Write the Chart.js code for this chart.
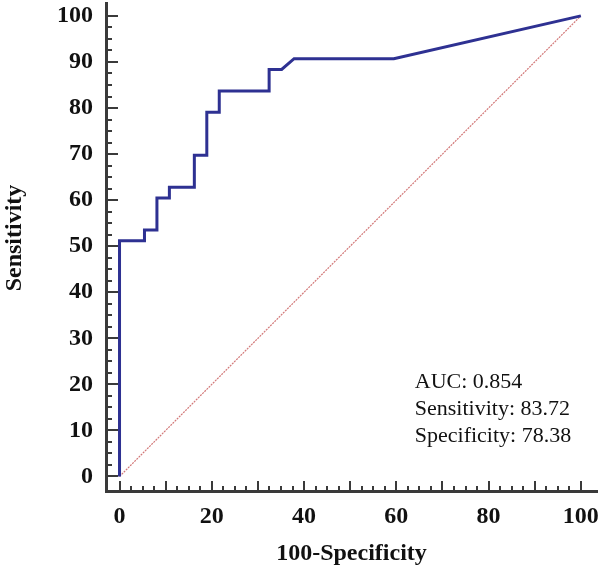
<!DOCTYPE html>
<html><head><meta charset="utf-8">
<script src="https://cdn.jsdelivr.net/npm/chart.js@4/dist/chart.umd.min.js"></script>
<style>html,body{margin:0;padding:0;background:#fff}#wrap{width:603px;height:572px;position:relative}</style>
</head><body><div id="wrap"><canvas id="c"></canvas></div>
<script>
// ROC curve (100-Specificity, Sensitivity)
const rocX = [0, 0, 5.41, 5.41, 8.11, 8.11, 10.81, 10.81, 16.22, 16.22, 18.92, 18.92, 21.62, 21.62, 32.43, 32.43, 35.14, 37.84, 59.46, 100];
const rocY = [0, 51.16, 51.16, 53.49, 53.49, 60.47, 60.47, 62.79, 62.79, 69.77, 69.77, 79.07, 79.07, 83.72, 83.72, 88.37, 88.37, 90.70, 90.70, 100];
// reference (chance) diagonal
const refX = [0, 100];
const refY = [0, 100];
// tick labels
const xTickValues = [0, 20, 40, 60, 80, 100];
const yTickValues = [0, 10, 20, 30, 40, 50, 60, 70, 80, 90, 100];
// statistics box
const statsLines = ["AUC: 0.854", "Sensitivity: 83.72", "Specificity: 78.38"];
const statsAnchor = { x: 64, y: 19.2 };

const AXIS = '#3a3a3a';
const SERIF = "'Liberation Serif','Times New Roman',serif";

const inwardTicks = {
  id: 'inwardTicks',
  afterDraw(chart) {
    const { ctx, chartArea, scales: { x, y } } = chart;
    ctx.save();
    ctx.strokeStyle = AXIS;
    ctx.lineWidth = 2;
    ctx.beginPath();
    for (let v = 0; v <= 100; v += 2.5) {
      const px = Math.round(x.getPixelForValue(v));
      const len = (v % 10 === 0) ? 10 : 5;
      ctx.moveTo(px, chartArea.bottom);
      ctx.lineTo(px, chartArea.bottom - len);
      const py = Math.round(y.getPixelForValue(v));
      const lenY = (v % 10 === 0) ? 12 : 6;
      ctx.moveTo(chartArea.left, py);
      ctx.lineTo(chartArea.left + lenY, py);
    }
    ctx.stroke();
    // statistics text
    ctx.fillStyle = '#111';
    ctx.font = "22px " + SERIF;
    ctx.textAlign = 'left';
    ctx.textBaseline = 'alphabetic';
    const sx = x.getPixelForValue(statsAnchor.x);
    const sy = y.getPixelForValue(statsAnchor.y);
    statsLines.forEach((t, i) => ctx.fillText(t, sx, sy + i * 27));
    ctx.restore();
  }
};

function zeroPad(s) { s.paddingTop = 0; s.paddingBottom = 0; s.paddingLeft = 0; s.paddingRight = 0; }

new Chart(document.getElementById('c'), {
  type: 'line',
  data: {
    datasets: [
      {
        data: rocX.map((v, i) => ({ x: v, y: rocY[i] })),
        borderColor: '#2e3192',
        borderWidth: 3,
        pointRadius: 0,
        fill: false,
        tension: 0,
        order: 0
      },
      {
        data: refX.map((v, i) => ({ x: v, y: refY[i] })),
        borderColor: '#d27878',
        borderWidth: 1.2,
        borderDash: [2, 1],
        pointRadius: 0,
        fill: false,
        order: 1
      }
    ]
  },
  options: {
    responsive: true,
    maintainAspectRatio: false,
    animation: false,
    layout: { padding: { top: 3, right: 6, bottom: 0, left: 0 } },
    plugins: { legend: { display: false }, tooltip: { enabled: false } },
    scales: {
      x: {
        type: 'linear',
        min: -2.93,
        max: 103.5,
        afterBuildTicks: (s) => { s.ticks = xTickValues.map(v => ({ value: v })); },
        afterFit: (s) => { s.height = 81; zeroPad(s); },
        grid: { display: true, drawOnChartArea: false, drawTicks: false },
        border: { display: true, color: AXIS, width: 3 },
        ticks: { color: '#111', padding: 11, maxRotation: 0, autoSkip: false,
                 font: { family: SERIF, size: 24, weight: 'bold' } },
        title: { display: true, text: '100-Specificity', color: '#111',
                 padding: { top: 0, bottom: 4 },
                 font: { family: SERIF, size: 24, weight: 'bold' } }
      },
      y: {
        type: 'linear',
        min: -3.15,
        max: 102.8,
        afterBuildTicks: (s) => { s.ticks = yTickValues.map(v => ({ value: v })); },
        afterFit: (s) => { s.width = 106; zeroPad(s); },
        grid: { display: true, drawOnChartArea: false, drawTicks: false },
        border: { display: true, color: AXIS, width: 3 },
        ticks: { color: '#111', padding: 13, autoSkip: false,
                 font: { family: SERIF, size: 24, weight: 'bold' } },
        title: { display: true, text: '   Sensitivity', color: '#111',
                 padding: { top: 0, bottom: 0 },
                 font: { family: SERIF, size: 24, weight: 'bold' } }
      }
    }
  },
  plugins: [inwardTicks]
});
</script>
</body></html>
